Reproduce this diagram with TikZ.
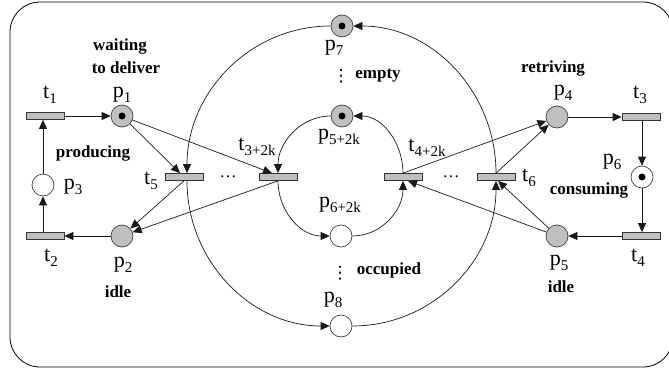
\documentclass[tikz,border=0pt]{standalone}
\usepackage{fontspec}
\setmainfont{Liberation Serif}
\newfontfamily\dejavu{DejaVu Sans}
\usetikzlibrary{arrows.meta}
\newcommand\plab[2]{#1\raisebox{-4.5pt}{\fontsize{15}{15}\selectfont #2}}
\tikzset{
  place/.style={circle, draw=black!75, fill=white, minimum size=22pt, inner sep=0pt, line width=0.7pt},
  gplace/.style={place, fill=black!25},
  trans/.style={rectangle, draw=black!80, fill=black!25, minimum width=38pt, minimum height=7pt, inner sep=0pt, line width=0.7pt},
  arc/.style={draw=black!90, line width=0.7pt, -{Triangle[length=9pt,width=8pt]}},
  lab/.style={inner sep=0pt, font=\fontsize{22}{22}\selectfont},
  txt/.style={inner sep=0pt, font=\fontsize{17}{17}\selectfont\bfseries},
  vdot/.style={inner sep=0pt, font=\dejavu\fontsize{17}{17}\selectfont},
  hdot/.style={inner sep=0pt, font=\fontsize{17}{17}\selectfont},
}
\begin{document}
\begin{tikzpicture}[x=1pt,y=-1pt]
\useasboundingbox (0,0) rectangle (669,369);
\draw[line width=0.8pt, rounded corners=30pt] (10,2) rectangle (673,367);

% places and transitions
\node[trans]  (t1)  at (45,116) {};
\node[gplace] (p1)  at (122,116) {};
\node[place]  (p3)  at (43,185) {};
\node[trans]  (t2)  at (45,236) {};
\node[gplace] (p2)  at (122,236) {};
\node[trans]  (t5)  at (184,177) {};
\node[trans]  (t3k) at (278,177) {};
\node[trans]  (t4k) at (403,177) {};
\node[trans]  (t6)  at (496,177) {};
\node[gplace] (p7)  at (342,26) {};
\node[gplace] (p5k) at (342,116) {};
\node[place]  (p6k) at (341,236) {};
\node[place]  (p8)  at (341,326) {};
\node[gplace] (p4)  at (557,117) {};
\node[trans]  (t3)  at (641,117) {};
\node[place]  (p6)  at (642,177) {};
\node[trans]  (t4)  at (641,236) {};
\node[gplace] (p5)  at (557,236) {};

% tokens
\fill (p1.center) circle (3.5pt);
\fill (p7.center) circle (3.5pt);
\fill (p5k.center) circle (3.5pt);
\fill (p6.center) circle (3.5pt);

% labels
\node[lab] (lt1) at (50,95) {\plab{t}{1}};
\node[lab] (lp1) at (122,95) {\plab{p}{1}};
\node[txt] (w1) at (120,46) {waiting};
\node[txt] (w2) at (126,68) {to deliver};
\node[txt] (prod) at (93,153) {producing};
\node[lab] (lp3) at (73,187) {\plab{p}{3}};
\node[lab] (lt2) at (51,258) {\plab{t}{2}};
\node[lab] (lp2) at (123,265) {\plab{p}{2}};
\node[txt] (idl) at (118,292) {idle};
\node[lab] (lt5) at (151,181) {\plab{t}{5}};
\node[lab] (lt3k) at (257,147) {\plab{t}{3+2k}};
\node[hdot] (d1) at (228,177) {\dots};
\node[lab] (lp5k) at (339,137) {\plab{p}{5+2k}};
\node[lab] (lp7) at (334,48) {\plab{p}{7}};
\node[vdot] (v1) at (341,76) {⋮};
\node[txt] (emp) at (378,76) {empty};
\node[lab] (lt4k) at (427,148) {\plab{t}{4+2k}};
\node[hdot] (d2) at (451,177) {\dots};
\node[lab] (lt6) at (529,178) {\plab{t}{6}};
\node[lab] (lp4) at (563,93) {\plab{p}{4}};
\node[txt] (ret) at (553,68) {retriving};
\node[lab] (lt3) at (640,95) {\plab{t}{3}};
\node[lab] (lp6) at (612,162) {\plab{p}{6}};
\node[txt] (con) at (589,190) {consuming};
\node[lab] (lt4) at (638,258) {\plab{t}{4}};
\node[lab] (lp5) at (559,263) {\plab{p}{5}};
\node[txt] (idr) at (561,287) {idle};
\node[lab] (lp6k) at (340,205) {\plab{p}{6+2k}};
\node[vdot] (v2) at (340,273) {⋮};
\node[txt] (occ) at (389,270) {occupied};
\node[lab] (lp8) at (333,300) {\plab{p}{8}};

% big circle
\draw[arc] (p7.west) to[out=180,in=90] ([xshift=3pt]t5.north);
\draw[arc] ([xshift=3pt]t5.south) to[out=-90,in=180] (p8.west);
\draw[arc] (p8.east) to[out=0,in=-90] (t6.south);
\draw[arc] (t6.north) to[out=90,in=0] (p7.east);
% inner circle
\draw[arc] (p5k.west) to[out=180,in=90] (t3k.north);
\draw[arc] (t3k.south) to[out=-90,in=180] (p6k.west);
\draw[arc] (p6k.east) to[out=0,in=-90] (t4k.south);
\draw[arc] (t4k.north) to[out=90,in=0] (p5k.east);

% left cycle
\draw[arc] (t1) -- (p1);
\draw[arc] (p3.north) -- (p3.north |- t1.south);
\draw[arc] (p3.south |- t2.north) -- (p3.south);
\draw[arc] (p2) -- (t2);
\draw[arc] (p1) -- ([xshift=-4pt]t5.north);
\draw[arc] (p1) -- ([xshift=-6pt]t3k.north);
\draw[arc] (t5.south) -- (p2);
\draw[arc] (t3k.south) -- (p2);
% right cycle
\draw[arc] (t4k.north) -- (p4);
\draw[arc] (t6.north) -- (p4);
\draw[arc] (p5) -- ([xshift=5pt]t4k.south);
\draw[arc] (p5) -- ([xshift=2pt]t6.south);
\draw[arc] (p4) -- (t3);
\draw[arc] (t3.south -| p6) -- (p6);
\draw[arc] (p6) -- (t4.north -| p6);
\draw[arc] (t4) -- (p5);
\end{tikzpicture}
\end{document}
